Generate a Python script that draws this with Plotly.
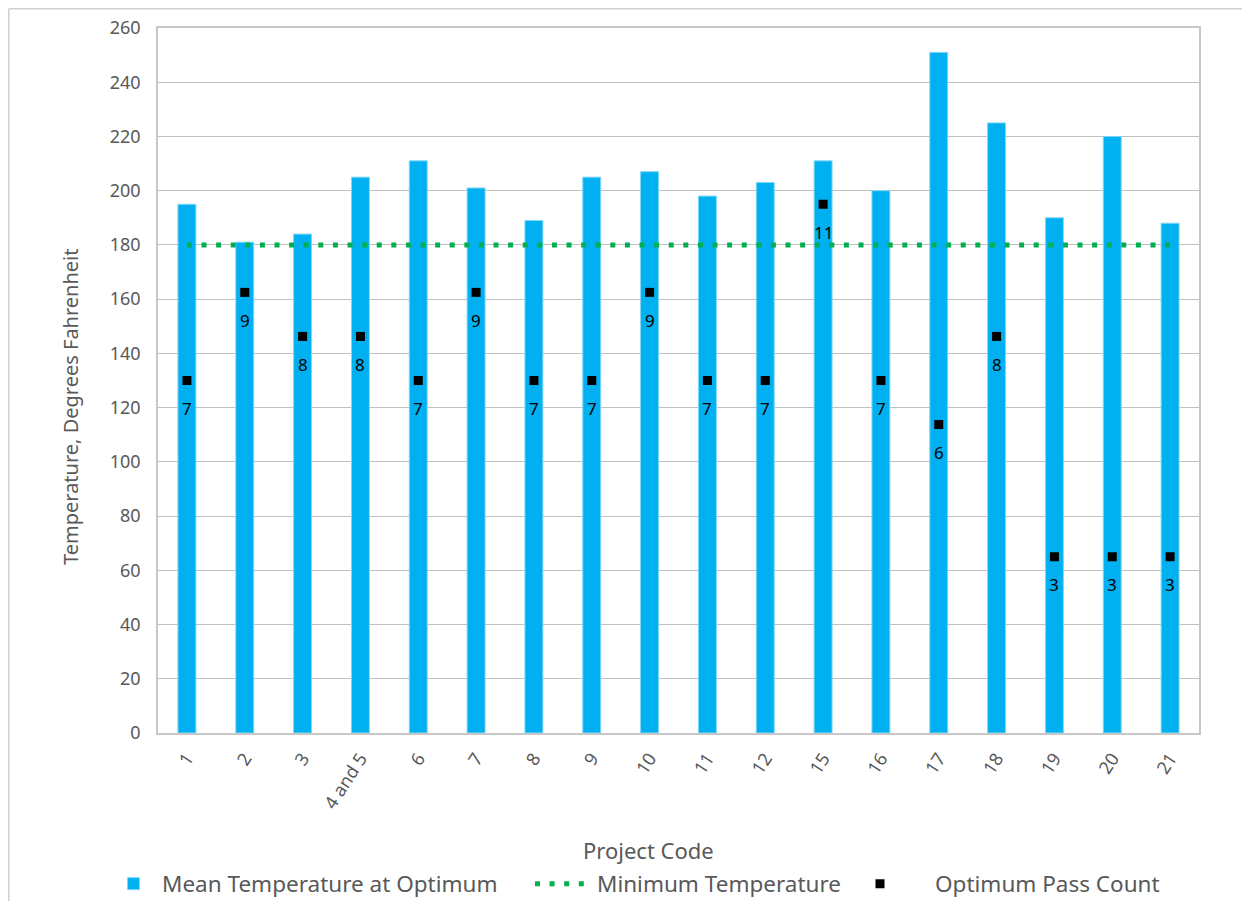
import plotly.graph_objects as go

categories = ["1", "2", "3", "4 and 5", "6", "7", "8", "9", "10", "11", "12",
              "15", "16", "17", "18", "19", "20", "21"]
mean_temp = [195, 181, 184, 205, 211, 201, 189, 205, 207, 198, 203,
             211, 200, 251, 225, 190, 220, 188]
min_temp = [180] * len(categories)
pass_count = [7, 9, 8, 8, 7, 9, 7, 7, 9, 7, 7, 11, 7, 6, 8, 3, 3, 3]
y_ticks = list(range(0, 261, 20))

FONT = "Noto Sans"
GREY = "#595959"

# page body has an 8px margin; figure sized to fit the 1250x901 window
W, H = 1242, 893
ML, MR, MT, MB = 150, 51, 20, 168
PW, PH = W - ML - MR, H - MT - MB


def px_x(fx):
    return (fx - ML) / PW


def px_y(fy):
    return (H - MB - fy) / PH


fig = go.Figure()
fig.add_trace(go.Bar(
    x=categories, y=mean_temp, name="Mean Temperature at Optimum",
    marker=dict(color="#00B0F0", line=dict(color="#7FD6F7", width=1)),
    width=0.31, legend="legend",
))
fig.add_trace(go.Scatter(
    x=categories, y=min_temp, name="Minimum Temperature", mode="lines",
    line=dict(color="#00B050", width=5, dash="5px,9.6px"),
    legend="legend2",
))
fig.add_trace(go.Scatter(
    x=categories, y=pass_count, name="Optimum Pass Count", mode="markers",
    marker=dict(symbol="square", color="black", size=9),
    yaxis="y2", legend="legend3",
))
# data labels below the markers (category index = position on category axis)
for i, v in enumerate(pass_count):
    fig.add_annotation(x=i, y=v, xref="x", yref="y2", text=str(v), showarrow=False,
                       xanchor="center", yanchor="middle",
                       yshift=-28, font=dict(family=FONT, size=17, color="black"))

# axis titles (positioned as in the original chart)
fig.add_annotation(text="Project Code", xref="paper", yref="paper",
                   x=px_x(640), y=px_y(842), showarrow=False,
                   xanchor="center", yanchor="middle",
                   font=dict(size=22, color=GREY))
fig.add_annotation(text="Temperature, Degrees Fahrenheit", xref="paper", yref="paper",
                   x=px_x(62), y=px_y(399), showarrow=False, textangle=-90,
                   xanchor="center", yanchor="middle",
                   font=dict(size=20, color=GREY))

leg_common = dict(orientation="h", yanchor="middle", y=px_y(876), xanchor="left",
                  font=dict(size=22.5, color=GREY), bgcolor="rgba(0,0,0,0)")

fig.update_layout(
    width=W, height=H,
    margin=dict(l=ML, r=MR, t=MT, b=MB, autoexpand=False),
    paper_bgcolor="white", plot_bgcolor="white",
    font=dict(family=FONT, color=GREY, size=18),
    xaxis=dict(
        range=[-0.5, len(categories) - 0.5],
        tickangle=-57, tickfont=dict(size=18, color=GREY),
        showline=True, linecolor="#C8C8C8", linewidth=1.5, mirror=True,
        ticks="", showgrid=False, automargin=False, ticklabelstandoff=6,
    ),
    yaxis=dict(
        range=[0, 260], tickvals=y_ticks, tickfont=dict(size=18, color=GREY),
        showgrid=True, gridcolor="#C0C0C0", gridwidth=1.3,
        showline=True, linecolor="#C8C8C8", linewidth=1.5, mirror=True,
        ticks="", zeroline=False, ticklabelstandoff=12, automargin=False,
    ),
    yaxis2=dict(range=[-1, 15], overlaying="y", side="right", visible=False),
    legend=dict(**leg_common, x=px_x(97), itemwidth=47),
    legend2=dict(**leg_common, x=px_x(522), itemwidth=57),
    legend3=dict(**leg_common, x=px_x(817), itemwidth=100),
    showlegend=True,
)
# outer chart border (left and top edges visible in the window)
fig.add_shape(type="line", xref="paper", yref="paper",
              x0=px_x(0.75), x1=px_x(0.75), y0=px_y(0.75), y1=px_y(H + 20),
              line=dict(color="#D0D0D0", width=1.5))
fig.add_shape(type="line", xref="paper", yref="paper",
              x0=px_x(0.75), x1=px_x(W + 20), y0=px_y(0.75), y1=px_y(0.75),
              line=dict(color="#D0D0D0", width=1.5))

fig.write_html("out.html")
